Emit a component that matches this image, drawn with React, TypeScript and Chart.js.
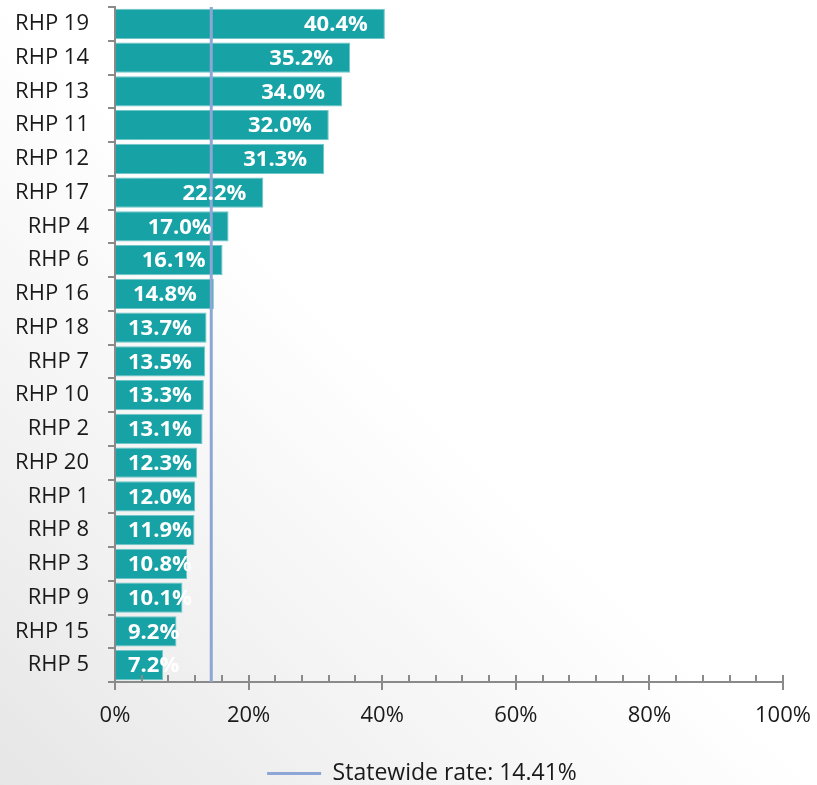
import { useEffect, useRef } from "react";
import { Chart, registerables } from "chart.js";

Chart.register(...registerables);

const categories = [
  "RHP 19", "RHP 14", "RHP 13", "RHP 11", "RHP 12", "RHP 17", "RHP 4", "RHP 6", "RHP 16", "RHP 18",
  "RHP 7", "RHP 10", "RHP 2", "RHP 20", "RHP 1", "RHP 8", "RHP 3", "RHP 9", "RHP 15", "RHP 5",
];
const rates = [40.4, 35.2, 34.0, 32.0, 31.3, 22.2, 17.0, 16.1, 14.8, 13.7, 13.5, 13.3, 13.1, 12.3, 12.0, 11.9, 10.8, 10.1, 9.2, 7.2];
const statewideRate = 14.41;
const statewideLabel = "Statewide rate: 14.41%";
const xTickValues = [0, 20, 40, 60, 80, 100];
const minorStep = 4;

const BAR = "#17A2A6";
const BAR_EDGE = "#6fc6c8";
const LINE = "#8EA6D6";
const AXIS = "#8a8a8a";
const TEXT = "#1a1a1a";
const FONT = '"Open Sans", "Noto Sans", sans-serif';

const overlayPlugin = {
  id: "overlay",
  afterLayout(chart: any) {
    // let the category labels use the free space to the left of the axis
    chart.scales.y.left = 0;
  },
  afterDatasetsDraw(chart: any) {
    const { ctx, chartArea, scales } = chart;
    const x = scales.x;
    ctx.save();
    // minor ticks above the x axis
    ctx.strokeStyle = AXIS;
    ctx.lineWidth = 2;
    for (let v = x.min; v <= x.max + 0.001; v += minorStep) {
      const px = Math.round(x.getPixelForValue(v));
      ctx.beginPath();
      ctx.moveTo(px, chartArea.bottom - 7);
      ctx.lineTo(px, chartArea.bottom);
      ctx.stroke();
    }
    // statewide line
    const sx = x.getPixelForValue(statewideRate);
    ctx.strokeStyle = LINE;
    ctx.lineWidth = 3;
    ctx.beginPath();
    ctx.moveTo(sx, chartArea.top);
    ctx.lineTo(sx, chartArea.bottom);
    ctx.stroke();
    // data labels
    const meta = chart.getDatasetMeta(0);
    ctx.font = `bold 22px ${FONT}`;
    ctx.fillStyle = "#ffffff";
    ctx.textAlign = "right";
    ctx.textBaseline = "middle";
    meta.data.forEach((bar: any, i: number) => {
      const text = rates[i].toFixed(1) + "%";
      const w = ctx.measureText(text).width;
      const right = Math.max(bar.x - 17, bar.base + 12 + w);
      ctx.fillText(text, right, bar.y + 1);
    });
    ctx.restore();
  },
};

export default function App() {
  const ref = useRef<HTMLCanvasElement | null>(null);

  useEffect(() => {
    if (!ref.current) return;
    const chart = new Chart(ref.current, {
      type: "bar",
      data: {
        labels: categories,
        datasets: [
          {
            type: "bar",
            label: "Rate",
            data: rates,
            backgroundColor: BAR,
            borderColor: BAR_EDGE,
            borderWidth: 1,
            barPercentage: 0.89,
            categoryPercentage: 1,
          } as any,
          {
            type: "line",
            label: statewideLabel,
            data: [],
            borderColor: LINE,
            backgroundColor: LINE,
            borderWidth: 3,
            pointStyle: "line",
          } as any,
        ],
      },
      options: {
        indexAxis: "y",
        animation: false,
        responsive: true,
        maintainAspectRatio: false,
        layout: { padding: { left: 61, right: 34, top: 7, bottom: -10 } },
        plugins: {
          tooltip: { enabled: false },
          legend: {
            position: "bottom",
            labels: {
              filter: (item: any) => item.datasetIndex === 1,
              usePointStyle: true,
              pointStyle: "line",
              pointStyleWidth: 54,
              font: { family: FONT, size: 23 },
              color: TEXT,
              padding: 0,
            },
          },
        },
        scales: {
          x: {
            type: "linear",
            min: 0,
            max: 100,
            afterBuildTicks: (s: any) => {
              s.ticks = xTickValues.map((v) => ({ value: v }));
            },
            ticks: {
              callback: (v: any) => v + "%",
              font: { family: FONT, size: 22 },
              color: TEXT,
              padding: 13,
              maxRotation: 0,
            },
            grid: { drawOnChartArea: false, tickLength: 8, color: AXIS, lineWidth: 2 },
            border: { color: AXIS, width: 2 },
            afterFit: (s: any) => {
              s.height = 80;
              s.paddingLeft = 0;
              s.paddingRight = 0;
            },
          },
          y: {
            type: "category",
            z: 1,
            ticks: { font: { family: FONT, size: 22 }, color: TEXT, padding: 19, autoSkip: false },
            grid: { drawOnChartArea: false, tickLength: 7, color: AXIS, lineWidth: 2, offset: true },
            border: { color: AXIS, width: 2 },
            afterFit: (s: any) => {
              s.width = 54;
              s.paddingTop = 0;
              s.paddingBottom = 0;
            },
          },
        },
      } as any,
      plugins: [overlayPlugin],
    });
    return () => chart.destroy();
  }, []);

  return (
    <div
      style={{
        position: "absolute",
        left: 0,
        top: 0,
        width: 817,
        height: 785,
        background: "linear-gradient(to top right, #e6e6e6 0%, #f3f3f3 25%, #ffffff 50%)",
      }}
    >
      <canvas ref={ref} />
    </div>
  );
}
